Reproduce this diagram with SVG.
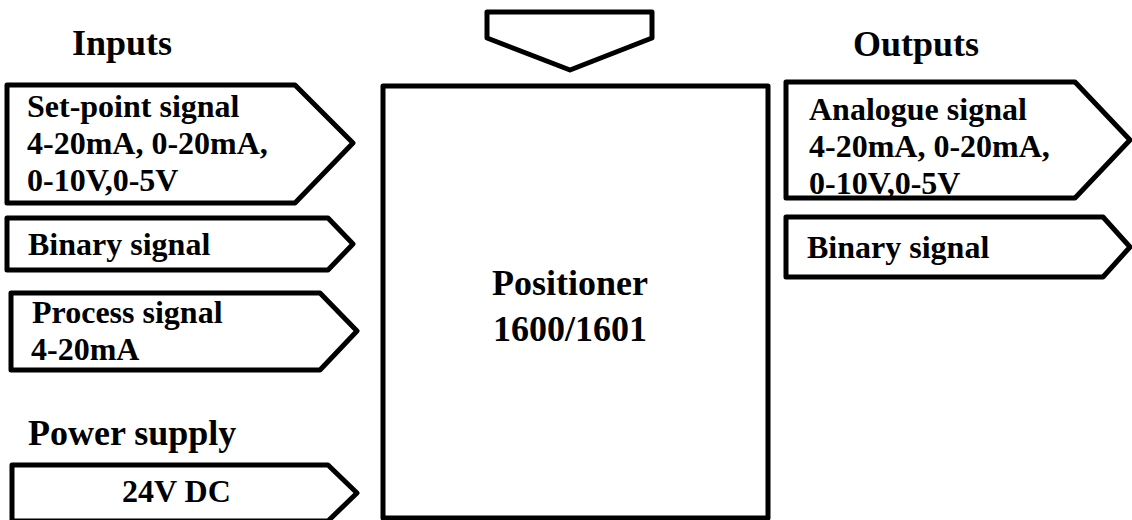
<svg xmlns="http://www.w3.org/2000/svg" width="1132" height="520" viewBox="0 0 1132 520">
<style>
.shape{fill:#fff;stroke:#000;stroke-width:5;stroke-linejoin:round}
.h{font-size:36px}
.b{font-size:32px}
</style>
<rect width="1132" height="520" fill="#fff"/>
<g font-family="Liberation Serif, Times New Roman, serif" font-weight="bold" fill="#000">
<text class="h" x="72" y="55">Inputs</text>
<text class="h" x="853" y="56">Outputs</text>
<text class="h" x="28" y="445">Power supply</text>
</g>
<g id="top-arrow"><polygon class="shape" points="487,12 652,12 652,38 570,70 487,38"/></g>
<g id="positioner" font-family="Liberation Serif, Times New Roman, serif" font-weight="bold">
<rect class="shape" x="383" y="86" width="385" height="432"/>
<text class="h" x="570" y="295" text-anchor="middle">Positioner</text>
<text class="h" x="570" y="341" text-anchor="middle">1600/1601</text>
</g>
<g id="setpoint" font-family="Liberation Serif, Times New Roman, serif" font-weight="bold">
<polygon class="shape" points="7,85 295,85 353,143 295,203 7,203"/>
<text class="b" x="27" y="117">Set-point signal</text>
<text class="b" x="27" y="154">4-20mA, 0-20mA,</text>
<text class="b" x="27" y="191">0-10V,0-5V</text>
</g>
<g id="binary-in" font-family="Liberation Serif, Times New Roman, serif" font-weight="bold">
<polygon class="shape" points="7,218 328,218 353,244 328,270 7,270"/>
<text class="b" x="28" y="255">Binary signal</text>
</g>
<g id="process" font-family="Liberation Serif, Times New Roman, serif" font-weight="bold">
<polygon class="shape" points="11,293 320,293 357,331 320,370 11,370"/>
<text class="b" x="32" y="323">Process signal</text>
<text class="b" x="31" y="360">4-20mA</text>
</g>
<g id="power" font-family="Liberation Serif, Times New Roman, serif" font-weight="bold">
<polygon class="shape" points="12,465 328,465 357,493 328,521 12,521"/>
<text class="b" x="122" y="502">24V DC</text>
</g>
<g id="analogue-out" font-family="Liberation Serif, Times New Roman, serif" font-weight="bold">
<polygon class="shape" points="786,82 1075,82 1130,140 1075,198 786,198"/>
<text class="b" x="809" y="120">Analogue signal</text>
<text class="b" x="809" y="157">4-20mA, 0-20mA,</text>
<text class="b" x="809" y="194">0-10V,0-5V</text>
</g>
<g id="binary-out" font-family="Liberation Serif, Times New Roman, serif" font-weight="bold">
<polygon class="shape" points="786,217 1103,217 1130,247 1103,277 786,277"/>
<text class="b" x="807" y="258">Binary signal</text>
</g>
<g id="connectors"></g>
</svg>
